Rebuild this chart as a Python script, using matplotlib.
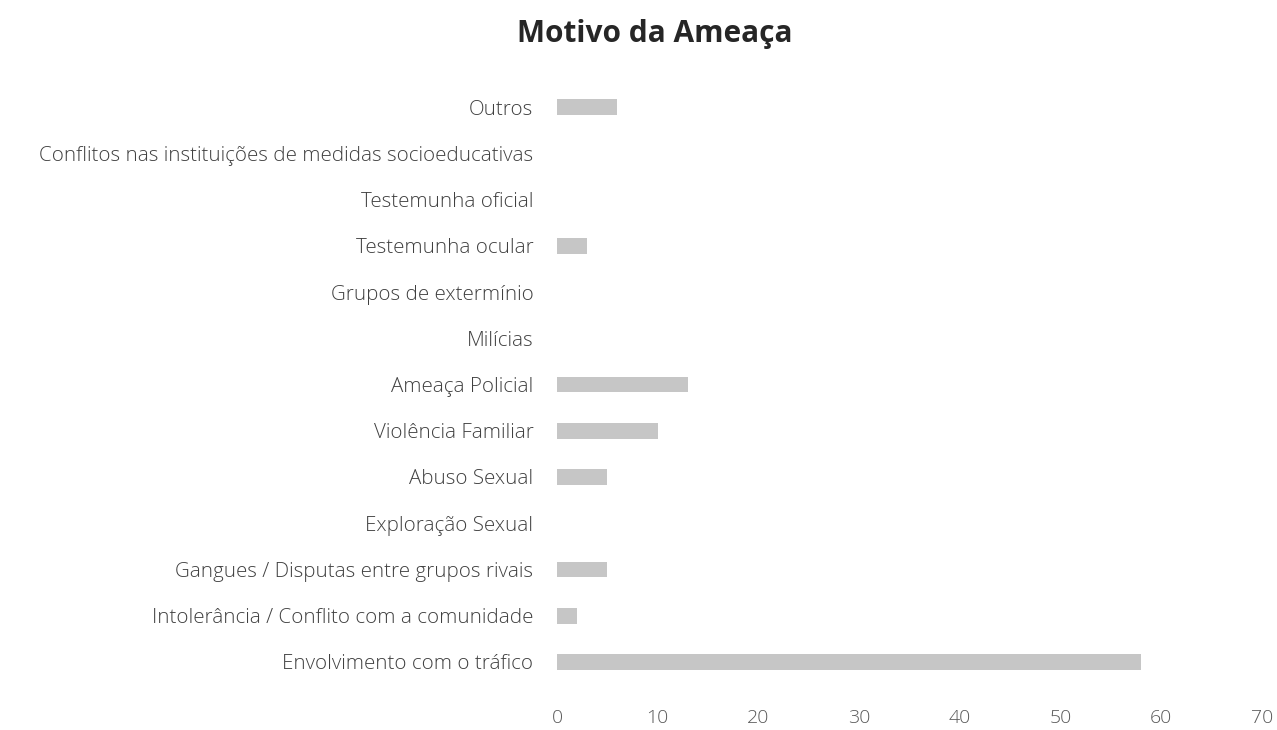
import numpy as np
import matplotlib.pyplot as plt

plt.rcParams['font.family'] = ['Open Sans', 'DejaVu Sans']

categorias = ['Envolvimento com o tráfico',
              'Intolerância / Conflito com a comunidade',
              'Gangues / Disputas entre grupos rivais',
              'Exploração Sexual',
              'Abuso Sexual',
              'Violência Familiar',
              'Ameaça Policial',
              'Milícias',
              'Grupos de extermínio',
              'Testemunha ocular',
              'Testemunha oficial',
              'Conflitos nas instituições de medidas socioeducativas',
              'Outros']
valores = [58, 2, 5, 0, 5, 10, 13, 0, 0, 3, 0, 0, 6]
xticks = [0, 10, 20, 30, 40, 50, 60, 70]

fig = plt.figure(figsize=(12.77, 7.3), dpi=100)
ax = fig.add_axes([0.4362, 0.0616, 0.5521, 0.8233])

y = np.arange(len(categorias))
ax.barh(y, valores, height=0.34, color='#c6c6c6')

ax.set_xlim(0, 70)
ax.set_ylim(-0.5, len(categorias) - 0.5)
ax.set_yticks(y)
ax.set_yticklabels(categorias, fontsize=14.8, color='#404040', fontweight='light')
ax.set_xticks(xticks)
ax.set_xticklabels([str(t) for t in xticks], fontsize=14, color='#595959', fontweight='light')
ax.tick_params(axis='both', length=0)
ax.tick_params(axis='x', pad=17)
ax.tick_params(axis='y', pad=17)
for s in ax.spines.values():
    s.set_visible(False)

fig.text(0.513, 0.953, 'Motivo da Ameaça', ha='center', va='center',
         fontsize=21.5, fontweight='bold', color='#262626')

fig.savefig('out.png', dpi=100)
